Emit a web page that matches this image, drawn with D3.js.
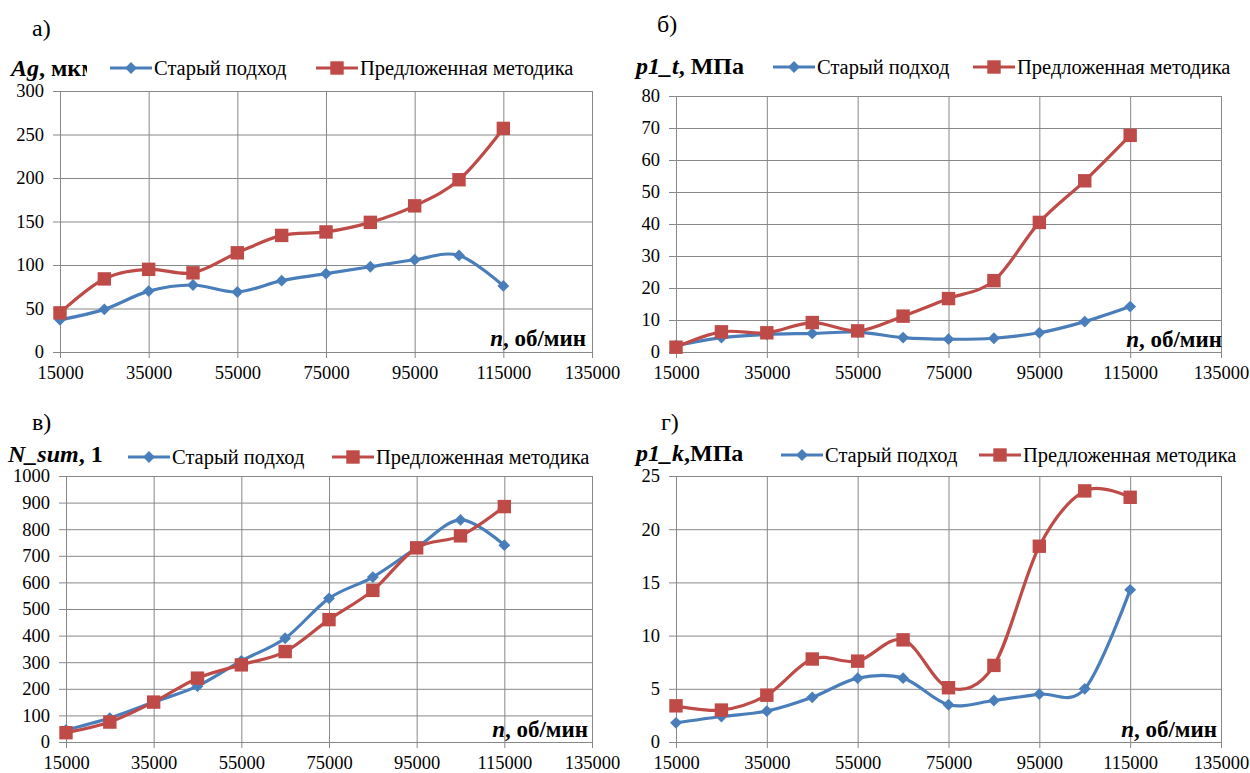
<!DOCTYPE html>
<html>
<head>
<meta charset="utf-8">
<script src="https://cdn.jsdelivr.net/npm/d3@7"></script>
<style>
  body { margin: 0; background: #fff; }
  svg { display: block; }
  .grid line { stroke: #888; stroke-width: 1; }
  .grid path { display: none; }
  .axis path, .axis line { stroke: #888; }
  .axis text { font-size: 18.5px; fill: #000; }
</style>
</head>
<body>
<svg id="chart" width="1250" height="773"></svg>
<script>
// valeurs
const rpm = [15000, 25000, 35000, 45000, 55000, 65000, 75000, 85000, 95000, 105000, 115000];
const xTicks = [15000, 35000, 55000, 75000, 95000, 115000, 135000];

const agOld = [37, 49, 70, 77, 69, 82, 90, 98, 106, 111, 76];
const agNew = [45, 84, 95, 91, 114, 134, 138, 149, 168, 198, 257];

const p1tOld = [2, 4.5, 5.5, 5.8, 6.2, 4.5, 4, 4.3, 6, 9.5, 14.2];
const p1tNew = [1.5, 6.3, 6, 9.2, 6.6, 11.2, 16.7, 22.3, 40.5, 53.5, 67.7];

const nsumOld = [45, 90, 150, 210, 305, 390, 540, 620, 730, 835, 740];
const nsumNew = [35, 75, 150, 240, 290, 340, 460, 570, 730, 775, 885];

const p1kOld = [1.8, 2.4, 2.9, 4.2, 6.0, 6.0, 3.5, 3.9, 4.5, 5.0, 14.3];
const p1kNew = [3.4, 3.0, 4.4, 7.8, 7.6, 9.6, 5.1, 7.2, 18.4, 23.6, 23.0];

const agTicks = [0, 50, 100, 150, 200, 250, 300];
const p1tTicks = [0, 10, 20, 30, 40, 50, 60, 70, 80];
const nsumTicks = [0, 100, 200, 300, 400, 500, 600, 700, 800, 900, 1000];
const p1kTicks = [0, 5, 10, 15, 20, 25];

const seriesNames = ['Старый подход', 'Предложенная методика'];
const blue = '#4a7ebb';
const red = '#be4b48';

const svg = d3.select('#chart');

// 4 panneaux
const panels = [
  { letter: 'а)', lx: 32, ly: 36, name: 'Ag', unit: ', мкм', tx: 11, ty: 76, clip: 87,
    x0: 60, x1: 592, y0: 352, y1: 91, max: 300, ticks: agTicks, old: agOld, nw: agNew,
    leg: [110, 316], legY: 68, nx: 586, ny: 346 },
  { letter: 'б)', lx: 657, ly: 32, name: 'p1_t', unit: ', МПа', tx: 636, ty: 74, clip: null,
    x0: 676, x1: 1221, y0: 352, y1: 96, max: 80, ticks: p1tTicks, old: p1tOld, nw: p1tNew,
    leg: [773, 973], legY: 67, nx: 1222, ny: 347 },
  { letter: 'в)', lx: 32, ly: 430, name: 'N_sum', unit: ', 1', tx: 8, ty: 462, clip: 103,
    x0: 66, x1: 592, y0: 742, y1: 476, max: 1000, ticks: nsumTicks, old: nsumOld, nw: nsumNew,
    leg: [128, 332], legY: 457, nx: 588, ny: 737 },
  { letter: 'г)', lx: 661, ly: 430, name: 'p1_k', unit: ',МПа', tx: 636, ty: 461, clip: null,
    x0: 676, x1: 1221, y0: 742, y1: 476, max: 25, ticks: p1kTicks, old: p1kOld, nw: p1kNew,
    leg: [781, 979], legY: 455, nx: 1217, ny: 737 }
];

const diamond = d3.symbol().type(d3.symbolSquare).size(70);
const square = d3.symbol().type(d3.symbolSquare).size(180);

panels.forEach((p, k) => {
  const x = d3.scaleLinear().domain([15000, 135000]).range([p.x0, p.x1]);
  const y = d3.scaleLinear().domain([0, p.max]).range([p.y0, p.y1]);
  const g = svg.append('g');

  // grille
  g.append('g')
    .attr('class', 'grid')
    .attr('transform', `translate(0, ${p.y0})`)
    .call(d3.axisBottom(x).tickValues(xTicks).tickSize(-(p.y0 - p.y1)).tickFormat(''));
  g.append('g')
    .attr('class', 'grid')
    .attr('transform', `translate(${p.x0}, 0)`)
    .call(d3.axisLeft(y).tickValues(p.ticks).tickSize(-(p.x1 - p.x0)).tickFormat(''));

  // axes
  g.append('g')
    .attr('class', 'axis')
    .attr('transform', `translate(0, ${p.y0})`)
    .call(d3.axisBottom(x).tickValues(xTicks).tickSize(6).tickPadding(8).tickSizeOuter(0).tickFormat(d3.format('d')));
  g.append('g')
    .attr('class', 'axis')
    .attr('transform', `translate(${p.x0}, 0)`)
    .call(d3.axisLeft(y).tickValues(p.ticks).tickSize(7).tickPadding(9).tickSizeOuter(0).tickFormat(d3.format('d')));

  // label n
  const nl = g.append('text')
    .attr('x', p.nx).attr('y', p.ny)
    .attr('text-anchor', 'end')
    .attr('font-size', 23).attr('font-weight', 'bold');
  nl.append('tspan').attr('font-style', 'italic').text('n');
  nl.append('tspan').text(', об/мин');

  // courbes lissees
  const line = d3.line()
    .x((d, i) => x(rpm[i]))
    .y(d => y(d))
    .curve(d3.curveCardinal.tension(0));

  g.append('path').datum(p.old)
    .attr('d', line).attr('fill', 'none')
    .attr('stroke', blue).attr('stroke-width', 3.2);
  g.append('path').datum(p.nw)
    .attr('d', line).attr('fill', 'none')
    .attr('stroke', red).attr('stroke-width', 3.2);

  g.selectAll('.mo').data(p.old).enter().append('path')
    .attr('d', diamond)
    .attr('fill', blue)
    .attr('transform', (d, i) => `translate(${x(rpm[i])}, ${y(d)}) rotate(45)`);
  g.selectAll('.mn').data(p.nw).enter().append('path')
    .attr('d', square)
    .attr('fill', red)
    .attr('transform', (d, i) => `translate(${x(rpm[i])}, ${y(d)})`);

  // lettre du panneau
  g.append('text')
    .attr('x', p.lx).attr('y', p.ly)
    .attr('font-size', 24)
    .text(p.letter);

  // titre de l'axe Y
  if (p.clip) {
    svg.append('clipPath').attr('id', 'clip' + k)
      .append('rect').attr('x', 0).attr('y', p.ty - 30).attr('width', p.clip).attr('height', 40);
  }
  const t = g.append('text')
    .attr('x', p.tx).attr('y', p.ty)
    .attr('font-size', 24).attr('font-weight', 'bold')
    .attr('clip-path', p.clip ? `url(#clip${k})` : null);
  t.append('tspan').attr('font-style', 'italic').text(p.name);
  t.append('tspan').text(p.unit);

  // legende
  [0, 1].forEach(j => {
    const lx = p.leg[j];
    const col = j === 0 ? blue : red;
    g.append('line')
      .attr('x1', lx).attr('x2', lx + 42)
      .attr('y1', p.legY).attr('y2', p.legY)
      .attr('stroke', col).attr('stroke-width', 3.2);
    g.append('path')
      .attr('d', j === 0 ? diamond : square)
      .attr('fill', col)
      .attr('transform', `translate(${lx + 21}, ${p.legY})` + (j === 0 ? ' rotate(45)' : ''));
    g.append('text')
      .attr('x', lx + 44).attr('y', p.legY + 7)
      .attr('font-size', 20.5)
      .text(seriesNames[j]);
  });
});

// police serif partout
svg.selectAll('g').attr('font-family', null);
svg.selectAll('text').style('font-family', '"Liberation Serif", serif');
</script>
</body>
</html>
